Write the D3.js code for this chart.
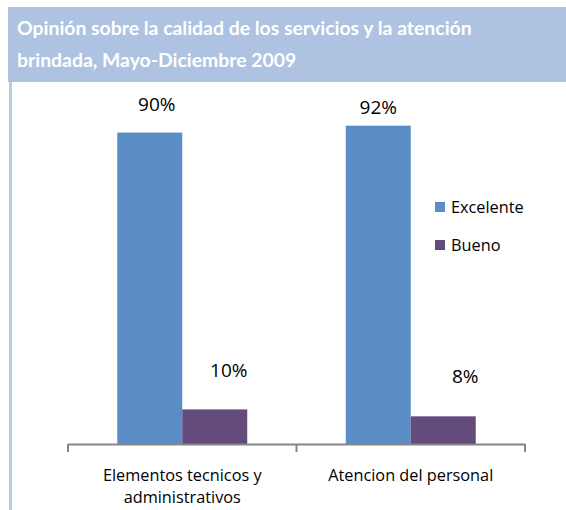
<!DOCTYPE html>
<html>
<head>
<meta charset="utf-8">
<script src="https://cdn.jsdelivr.net/npm/d3@7"></script>
<style>
  body { margin: 0; background: #fff; }
  svg { display: block; }
</style>
</head>
<body>
<div id="chart"></div>
<script>
// data
const categories = [["Elementos tecnicos y", "administrativos"], ["Atencion del personal"]];
const seriesNames = ["Excelente", "Bueno"];
const excelente = [90, 92];
const bueno = [10, 8];
const titleLines = ["Opinión sobre la calidad de los servicios y la atención", "brindada, Mayo-Diciembre 2009"];

const colors = {Excelente: "#5a8dc6", Bueno: "#634c7c"};
// label nudges (px) relative to bar top centre, [series][category]
const labelNudge = {Excelente: [[7, -29], [0, -19]], Bueno: [[14, -39], [22, -40]]};

const W = 566, H = 510;
const svg = d3.select("#chart").append("svg")
    .attr("width", W)
    .attr("height", H);

// title banner
svg.append("rect")
    .attr("x", 8).attr("y", 7)
    .attr("width", W - 8).attr("height", 75)
    .attr("fill", "#adc3e1");
svg.append("rect")
    .attr("x", 9).attr("y", 82)
    .attr("width", 3).attr("height", H - 82)
    .attr("fill", "#b8cde8");

svg.selectAll("text.title")
    .data(titleLines)
    .join("text")
    .attr("class", "title")
    .attr("x", 17)
    .attr("y", (d, i) => 35 + i * 32)
    .attr("fill", "#fff")
    .style("font-family", "Lato, 'Open Sans', sans-serif")
    .style("font-weight", "bold")
    .style("font-size", "19.4px")
    .text(d => d);

// scales
const x0 = d3.scaleBand()
    .domain(d3.range(categories.length))
    .range([68, 525])
    .paddingInner(0)
    .paddingOuter(0);
const x1 = d3.scaleBand()
    .domain(seriesNames)
    .range([0, x0.bandwidth()])
    .paddingInner(0)
    .paddingOuter(0.758);
const y = d3.scaleLinear()
    .domain([0, 100])
    .range([444, 98]);

const rows = categories.map((c, i) => ({i, values: [
  {key: "Excelente", value: excelente[i]},
  {key: "Bueno", value: bueno[i]}
]}));

const g = svg.append("g");
const groups = g.selectAll("g.cat")
    .data(rows)
    .join("g")
    .attr("class", "cat")
    .attr("transform", d => "translate(" + x0(d.i) + ",0)");

groups.selectAll("rect")
    .data(d => d.values)
    .join("rect")
    .attr("x", d => x1(d.key))
    .attr("y", d => y(d.value))
    .attr("width", x1.bandwidth())
    .attr("height", d => y(0) - y(d.value))
    .attr("fill", d => colors[d.key]);

groups.selectAll("text.val")
    .data(d => d.values.map(v => Object.assign({cat: d.i}, v)))
    .join("text")
    .attr("class", "val")
    .attr("x", d => x1(d.key) + x1.bandwidth() / 2 + labelNudge[d.key][d.cat][0])
    .attr("y", d => y(d.value) + labelNudge[d.key][d.cat][1])
    .attr("text-anchor", "middle")
    .attr("dominant-baseline", "central")
    .style("font-family", "'Open Sans', sans-serif")
    .style("font-size", "19px")
    .attr("fill", "#000")
    .text(d => d.value + "%");

// x axis: baseline with ticks at band boundaries
const axis = svg.append("g");
axis.append("line")
    .attr("x1", x0.range()[0]).attr("x2", x0.range()[1])
    .attr("y1", y(0) + 0.5).attr("y2", y(0) + 0.5)
    .attr("stroke", "#868686").attr("stroke-width", 2);
const tickXs = x0.domain().map(d => x0(d)).concat([x0.range()[1]]);
axis.selectAll("line.tick")
    .data(tickXs)
    .join("line")
    .attr("class", "tick")
    .attr("x1", d => d).attr("x2", d => d)
    .attr("y1", y(0)).attr("y2", y(0) + 8)
    .attr("stroke", "#868686").attr("stroke-width", 2);

axis.selectAll("text.cat")
    .data(categories)
    .join("text")
    .attr("class", "cat")
    .attr("text-anchor", "middle")
    .style("font-family", "'Open Sans', sans-serif")
    .style("font-size", "16.3px")
    .attr("fill", "#000")
    .each(function(d, i) {
      d3.select(this).selectAll("tspan")
        .data(d)
        .join("tspan")
        .attr("x", x0(i) + x0.bandwidth() / 2)
        .attr("y", (t, j) => 481 + j * 22)
        .text(t => t);
    });

// legend
const legend = svg.append("g").attr("transform", "translate(435,200)");
const li = legend.selectAll("g")
    .data(seriesNames)
    .join("g")
    .attr("transform", (d, i) => "translate(0," + i * 38 + ")");
li.append("rect")
    .attr("width", 10).attr("height", 10)
    .attr("y", 2)
    .attr("fill", d => colors[d]);
li.append("text")
    .attr("x", 16)
    .attr("y", 7)
    .attr("dominant-baseline", "central")
    .style("font-family", "'Open Sans', sans-serif")
    .style("font-size", "16.3px")
    .attr("fill", "#000")
    .text(d => d);
</script>
</body>
</html>
